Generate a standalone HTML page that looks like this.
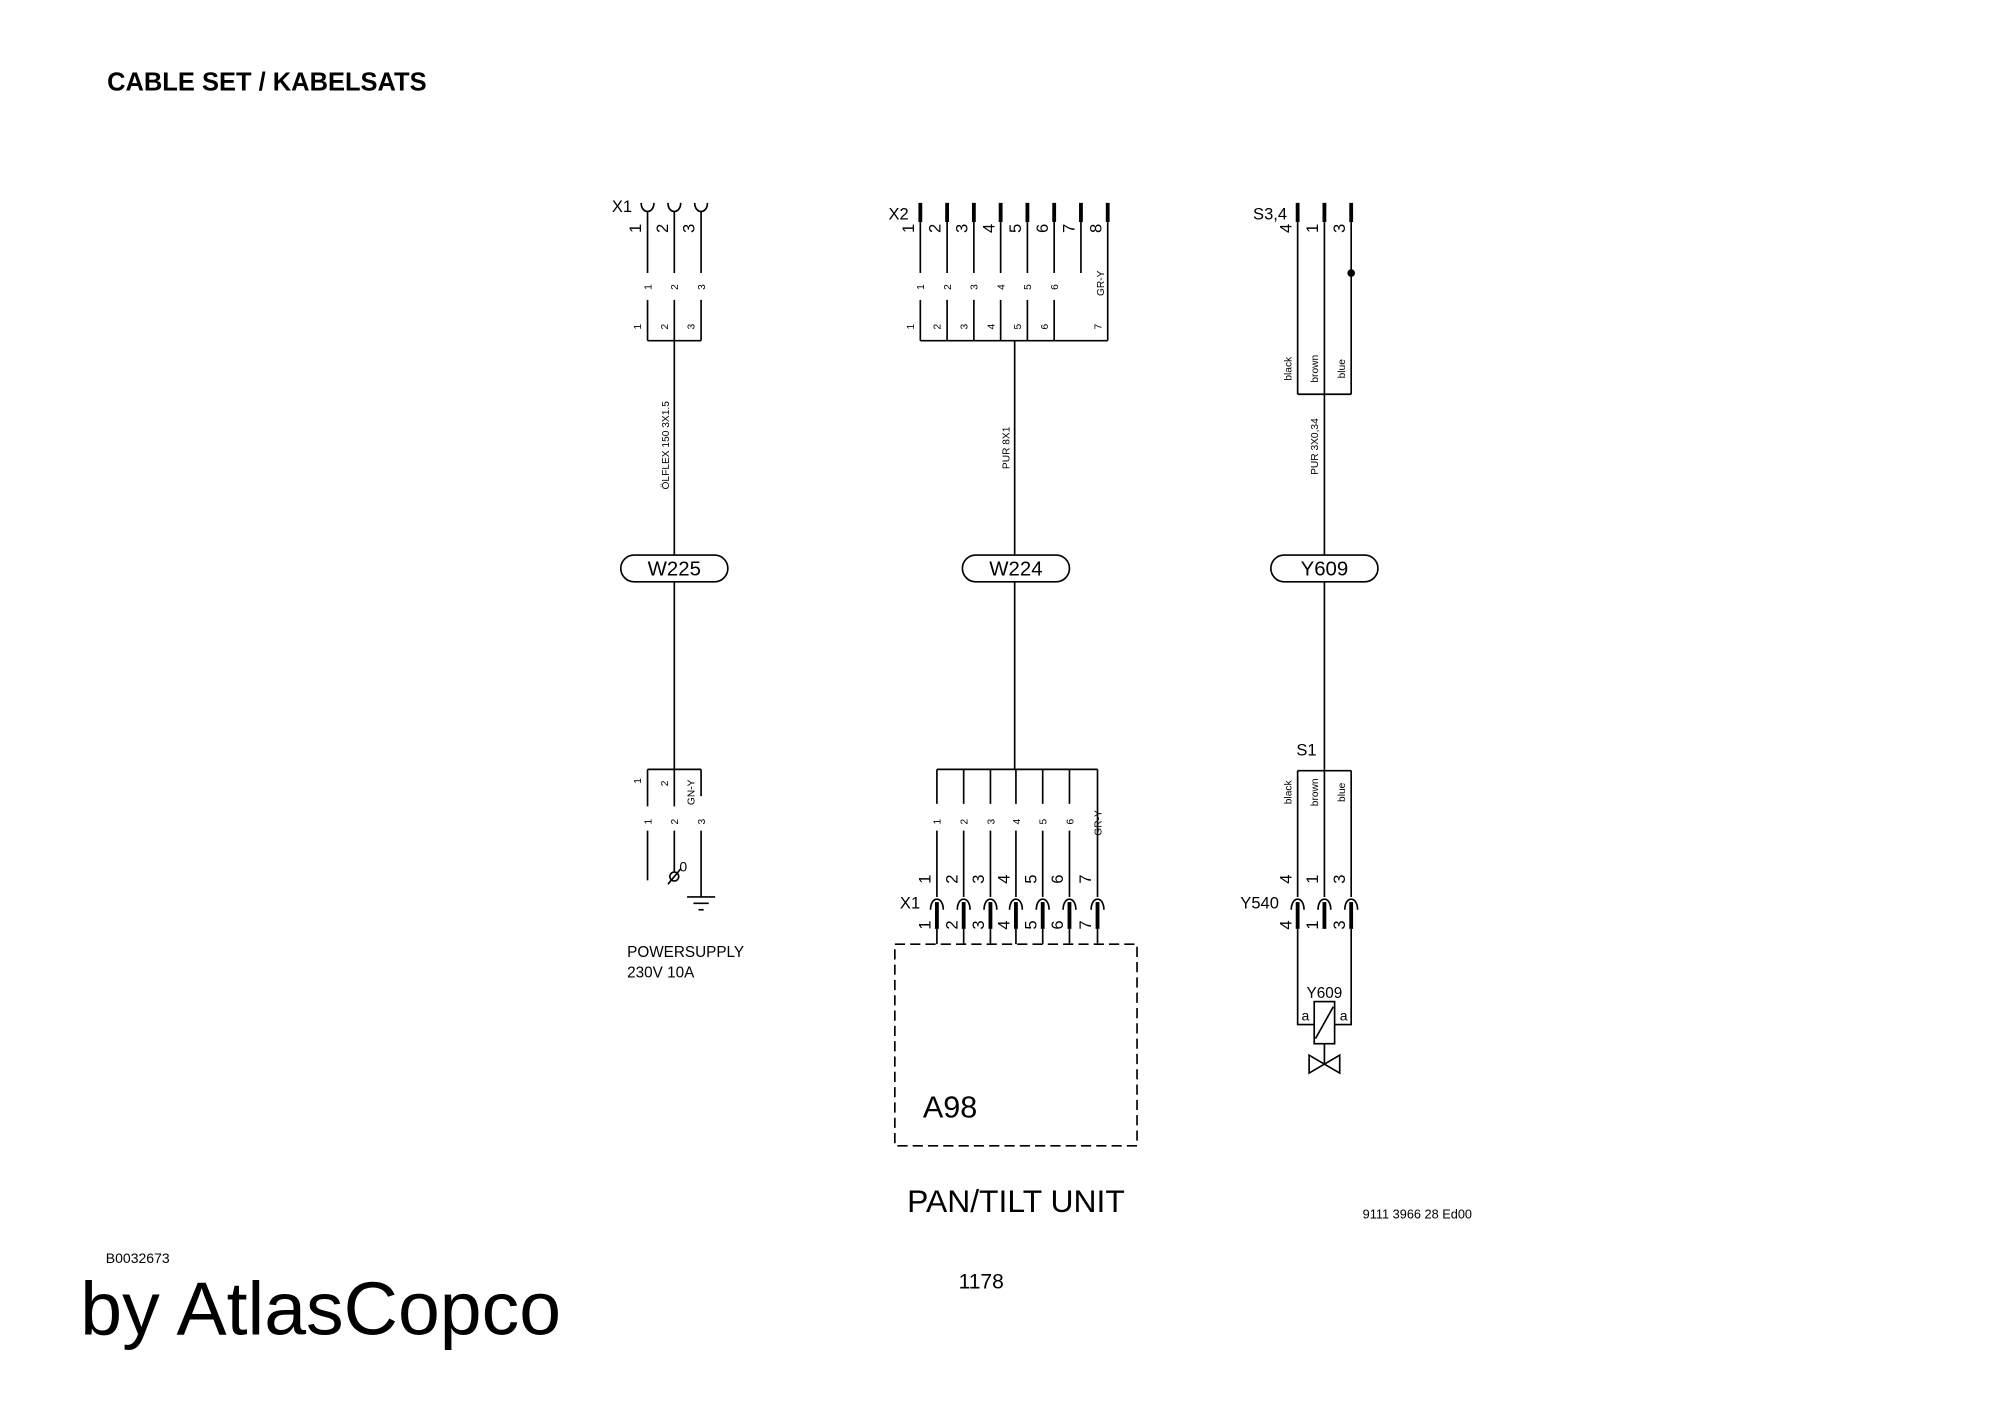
<!DOCTYPE html>
<html><head><meta charset="utf-8"><style>
html,body{margin:0;padding:0;background:#fff;}
svg{display:block;}
text{font-family:"Liberation Sans Narrow","Liberation Sans",sans-serif;fill:#000;}
.h{font-family:"Liberation Sans",sans-serif;}
</style></head><body>
<svg width="2000" height="1415" viewBox="0 0 1569 1109" preserveAspectRatio="none" xmlns="http://www.w3.org/2000/svg">
<rect width="1569" height="1109" fill="#fff"/>
<text class="h" x="84" y="71" font-size="20" font-weight="bold">CABLE SET / KABELSATS</text>

<g stroke="#000" stroke-width="1.3" fill="none">
<!-- X1 -->
<path d="M503 159 C503 168 513 168 513 159 M524 159 C524 168 534 168 534 159 M545 159 C545 168 555 168 555 159"/>
<path d="M508 166V214 M529 166V214 M550 166V214"/>
<path d="M508 235V267 M529 235V267 M550 235V267 M508 267H550 M529 267V435 M529 456V603"/>
<!-- X2 -->
<path d="M722 174V214 M743 174V214 M764 174V214 M785 174V214 M806 174V214 M827 174V214 M848 174V214 M869 174V267"/>
<path d="M722 235V267 M743 235V267 M764 235V267 M785 235V267 M806 235V267 M827 235V267 M722 267H869 M796 267V435 M796 456V603"/>
<!-- S3,4 -->
<path d="M1018 174V309 M1039 174V309 M1060 174V309 M1018 309H1060 M1039 309V435 M1039 456V604"/>
<!-- ovals -->
<rect x="487" y="435" width="84" height="21" rx="10.5"/>
<rect x="755" y="435" width="84" height="21" rx="10.5"/>
<rect x="997" y="435" width="84" height="21" rx="10.5"/>
<!-- power supply -->
<path d="M508 603H550 M508 603V632 M529 603V632 M550 603V624"/>
<path d="M508 651V690 M529 651V683 M550 651V703 M539 703H561 M544 708H556 M548 713H552"/>
<circle cx="529" cy="687" r="3.5"/>
<path d="M524 693L534 681"/>
<!-- A98 -->
<path d="M735 603H861 M735 603V630 M756 603V630 M777 603V630 M797 603V630 M818 603V630 M839 603V630 M861 603V703"/>
<path d="M735 651V703 M756 651V703 M777 651V703 M797 651V703 M818 651V703 M839 651V703"/>
<path d="M730 713C730 702 740 702 740 713 M751 713C751 702 761 702 761 713 M772 713C772 702 782 702 782 713 M792 713C792 702 802 702 802 713 M813 713C813 702 823 702 823 713 M834 713C834 702 844 702 844 713 M856 713C856 702 866 702 866 713"/>
<path d="M735 728V740 M756 728V740 M777 728V740 M797 728V740 M818 728V740 M839 728V740 M861 728V740"/>
<rect x="702" y="740" width="190" height="158" stroke-dasharray="8,4"/>
<!-- Y540 -->
<path d="M1018 604H1060 M1018 604V703 M1039 604V703 M1060 604V703"/>
<path d="M1013 713C1013 702 1023 702 1023 713 M1034 713C1034 702 1044 702 1044 713 M1055 713C1055 702 1065 702 1065 713"/>
<path d="M1018 728V803H1031 M1060 728V803H1047"/>
<rect x="1031" y="785" width="16" height="33"/>
<path d="M1032 814L1046 789 M1039 818V834 M1027 827L1051 841V827L1027 841Z"/>
</g>
<g fill="#000">
<rect x="720.5" y="159" width="3" height="15"/><rect x="741.5" y="159" width="3" height="15"/><rect x="762.5" y="159" width="3" height="15"/><rect x="783.5" y="159" width="3" height="15"/><rect x="804.5" y="159" width="3" height="15"/><rect x="825.5" y="159" width="3" height="15"/><rect x="846.5" y="159" width="3" height="15"/><rect x="867.5" y="159" width="3" height="15"/>
<rect x="1016.5" y="159" width="3" height="15"/><rect x="1037.5" y="159" width="3" height="15"/><rect x="1058.5" y="159" width="3" height="15"/>
<circle cx="1060" cy="214" r="3"/>
<rect x="733.5" y="707" width="3" height="21"/><rect x="754.5" y="707" width="3" height="21"/><rect x="775.5" y="707" width="3" height="21"/><rect x="795.5" y="707" width="3" height="21"/><rect x="816.5" y="707" width="3" height="21"/><rect x="837.5" y="707" width="3" height="21"/><rect x="859.5" y="707" width="3" height="21"/>
<rect x="1016.5" y="707" width="3" height="21"/><rect x="1037.5" y="707" width="3" height="21"/><rect x="1058.5" y="707" width="3" height="21"/>
</g>

<g font-size="13">
<text x="480" y="166">X1</text>
<text x="697" y="172">X2</text>
<text x="983" y="172">S3,4</text>
<text x="706" y="712">X1</text>
<text x="973" y="712">Y540</text>
<text x="1017" y="592">S1</text>
</g>
<g font-size="13" text-anchor="middle">
<text transform="translate(503,179) rotate(-90)">1</text><text transform="translate(524,179) rotate(-90)">2</text><text transform="translate(545,179) rotate(-90)">3</text>
<text transform="translate(717,179) rotate(-90)">1</text><text transform="translate(738,179) rotate(-90)">2</text><text transform="translate(759,179) rotate(-90)">3</text><text transform="translate(780,179) rotate(-90)">4</text><text transform="translate(801,179) rotate(-90)">5</text><text transform="translate(822,179) rotate(-90)">6</text><text transform="translate(843,179) rotate(-90)">7</text><text transform="translate(864,179) rotate(-90)">8</text>
<text transform="translate(1013,179) rotate(-90)">4</text><text transform="translate(1034,179) rotate(-90)">1</text><text transform="translate(1055,179) rotate(-90)">3</text>
<text transform="translate(730,689) rotate(-90)">1</text><text transform="translate(751,689) rotate(-90)">2</text><text transform="translate(772,689) rotate(-90)">3</text><text transform="translate(792,689) rotate(-90)">4</text><text transform="translate(813,689) rotate(-90)">5</text><text transform="translate(834,689) rotate(-90)">6</text><text transform="translate(856,689) rotate(-90)">7</text>
<text transform="translate(730,725) rotate(-90)">1</text><text transform="translate(751,725) rotate(-90)">2</text><text transform="translate(772,725) rotate(-90)">3</text><text transform="translate(792,725) rotate(-90)">4</text><text transform="translate(813,725) rotate(-90)">5</text><text transform="translate(834,725) rotate(-90)">6</text><text transform="translate(856,725) rotate(-90)">7</text>
<text transform="translate(1013,689) rotate(-90)">4</text><text transform="translate(1034,689) rotate(-90)">1</text><text transform="translate(1055,689) rotate(-90)">3</text>
<text transform="translate(1013,725) rotate(-90)">4</text><text transform="translate(1034,725) rotate(-90)">1</text><text transform="translate(1055,725) rotate(-90)">3</text>
</g>
<g class="h" font-size="8" text-anchor="middle">
<text transform="translate(511,225) rotate(-90)">1</text><text transform="translate(532,225) rotate(-90)">2</text><text transform="translate(553,225) rotate(-90)">3</text>
<text transform="translate(503,256) rotate(-90)">1</text><text transform="translate(524,256) rotate(-90)">2</text><text transform="translate(545,256) rotate(-90)">3</text>
<text transform="translate(725,225) rotate(-90)">1</text><text transform="translate(746,225) rotate(-90)">2</text><text transform="translate(767,225) rotate(-90)">3</text><text transform="translate(788,225) rotate(-90)">4</text><text transform="translate(809,225) rotate(-90)">5</text><text transform="translate(830,225) rotate(-90)">6</text>
<text transform="translate(866,222) rotate(-90)">GR-Y</text>
<text transform="translate(717,256) rotate(-90)">1</text><text transform="translate(738,256) rotate(-90)">2</text><text transform="translate(759,256) rotate(-90)">3</text><text transform="translate(780,256) rotate(-90)">4</text><text transform="translate(801,256) rotate(-90)">5</text><text transform="translate(822,256) rotate(-90)">6</text><text transform="translate(864,256) rotate(-90)">7</text>
<text transform="translate(1013,289) rotate(-90)">black</text><text transform="translate(1034,289) rotate(-90)">brown</text><text transform="translate(1055,289) rotate(-90)">blue</text>
<text transform="translate(525,349) rotate(-90)">ÖLFLEX 150 3X1.5</text>
<text transform="translate(792,351) rotate(-90)">PUR 8X1</text>
<text transform="translate(1034,350) rotate(-90)">PUR 3X0,34</text>
<text transform="translate(503,612) rotate(-90)">1</text><text transform="translate(524,614) rotate(-90)">2</text><text transform="translate(545,621) rotate(-90)">GN-Y</text>
<text transform="translate(511,644) rotate(-90)">1</text><text transform="translate(532,644) rotate(-90)">2</text><text transform="translate(553,644) rotate(-90)">3</text>
<text transform="translate(738,644) rotate(-90)">1</text><text transform="translate(759,644) rotate(-90)">2</text><text transform="translate(780,644) rotate(-90)">3</text><text transform="translate(800,644) rotate(-90)">4</text><text transform="translate(821,644) rotate(-90)">5</text><text transform="translate(842,644) rotate(-90)">6</text>
<text transform="translate(864,645) rotate(-90)">GR-Y</text>
<text transform="translate(1013,621) rotate(-90)">black</text><text transform="translate(1034,621) rotate(-90)">brown</text><text transform="translate(1055,621) rotate(-90)">blue</text>
</g>
<g font-size="16" text-anchor="middle">
<text x="529" y="451">W225</text><text x="797" y="451">W224</text><text x="1039" y="451">Y609</text>
</g>
<text x="533" y="683" font-size="11">0</text>
<text x="492" y="750" font-size="12">POWERSUPPLY</text>
<text x="492" y="766" font-size="12">230V 10A</text>
<text x="1039" y="782" font-size="12" text-anchor="middle">Y609</text>
<text x="1021" y="800" font-size="11">a</text>
<text x="1051" y="800" font-size="11">a</text>
<text x="724" y="876" font-size="24">A98</text>
<text x="797" y="950" font-size="25" text-anchor="middle">PAN/TILT UNIT</text>
<text x="1069" y="955" font-size="10">9111 3966 28 Ed00</text>
<text class="h" x="83" y="990" font-size="11">B0032673</text>
<text class="h" x="63" y="1046" font-size="59">by AtlasCopco</text>
<text class="h" x="752" y="1010" font-size="16.5">1178</text>
</svg>
</body></html>
